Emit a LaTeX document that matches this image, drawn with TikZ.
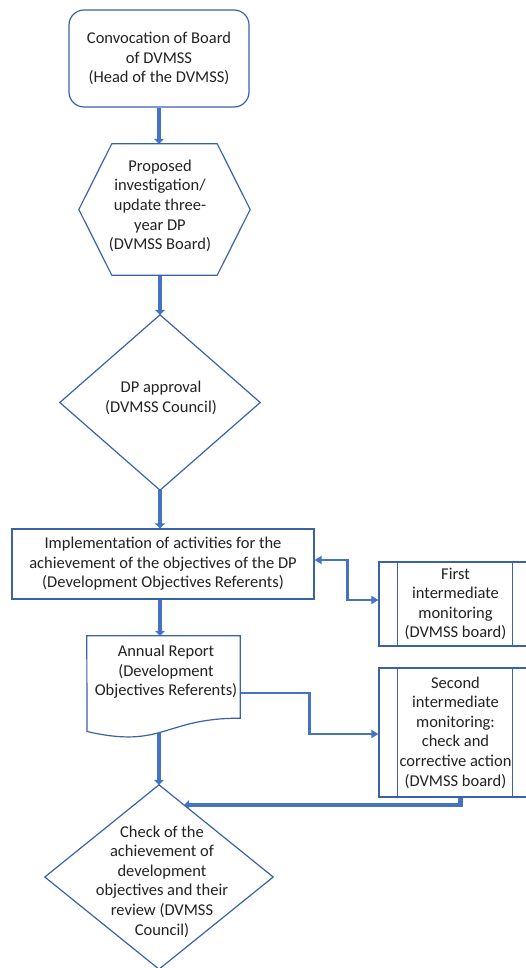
\documentclass[tikz,border=0pt]{standalone}
\usepackage{fontspec}
\setmainfont{Carlito}
\usetikzlibrary{arrows.meta,calc}
\definecolor{arr}{HTML}{4472C4}
\definecolor{edge}{HTML}{3A62A8}
\definecolor{txt}{HTML}{222222}
\pgfdeclarelayer{bg}
\pgfsetlayers{bg,main}
\begin{document}
\begin{tikzpicture}[x=1pt,y=-1pt,
  txtfont/.style={font=\fontsize{16.5}{19.6}\selectfont, text=txt, align=center},
  box/.style={draw=edge, line width=1.2pt, fill=white, inner sep=0pt, txtfont},
  ghost/.style={inner sep=0pt, txtfont},
  outline/.style={draw=edge, line width=1.2pt, fill=white},
  mainarrow/.style={draw=arr, line width=4.5pt, -{Triangle[length=5pt,width=10pt]}},
  thinarrow/.style={draw=arr, line width=2.8pt}
]
\useasboundingbox (0,0) rectangle (525,968);

% 1 rounded rectangle
\node[box, rounded corners=15pt, minimum width=180pt, minimum height=97pt] (n1) at (159,58.5)
  {Convocation of Board\\of DVMSS\\(Head of the DVMSS)};

% 2 hexagon
\node[ghost, minimum width=171pt, minimum height=131pt] (n2) at (164.5,209.5) {};
\draw[outline] ($(n2.north west)+(33,0)$) -- ($(n2.north east)+(-33,0)$) -- (n2.east)
  -- ($(n2.south east)+(-33,0)$) -- ($(n2.south west)+(33,0)$) -- (n2.west) -- cycle;
\node[ghost] (n2t) at (160,206) {Proposed\\investigation/\\update three-\\year DP\\(DVMSS Board)};

% 3 diamond
\node[ghost, minimum width=200pt, minimum height=175pt] (n3) at (160,402.5) {};
\draw[outline] (n3.north) -- (n3.east) -- (n3.south) -- (n3.west) -- cycle;
\node[ghost] (n3t) at (161,398) {DP approval\\(DVMSS Council)};

% 4 rectangle
\node[box, minimum width=302pt, minimum height=70pt] (n4) at (163,564)
  {Implementation of activities for the\\achievement of the objectives of the DP\\(Development Objectives Referents)};

% 5 document
\node[ghost, minimum width=153pt, minimum height=82pt] (n5) at (163.5,677) {};
\draw[outline] (n5.north west) -- (n5.north east) -- (n5.south east)
  .. controls (163.5,718) and (163.5,749.2) .. (87,731.5) -- cycle;
\node[ghost] (n5t) at (166,672) {Annual Report\\(Development\\Objectives Referents)};

% 6 diamond
\node[ghost, minimum width=228pt, minimum height=184pt] (n6) at (159,877) {};
\draw[outline] (n6.north) -- (n6.east) -- (n6.south) -- (n6.west) -- cycle;
\node[ghost] (n6t) at (162,881.5) {Check of the\\achievement of\\development\\objectives and their\\review (DVMSS\\Council)};

% 7 predefined process
\node[box, minimum width=153pt, minimum height=84pt] (n7) at (455.5,604)
  {First\\intermediate\\monitoring\\(DVMSS board)};
\draw[draw=edge, line width=1.2pt] ($(n7.north west)+(19,0)$) -- ($(n7.south west)+(19,0)$)
  ($(n7.north east)+(-20,0)$) -- ($(n7.south east)+(-20,0)$);

% 8 predefined process
\node[box, minimum width=153pt, minimum height=129pt] (n8) at (455.5,732.5)
  {Second\\intermediate\\monitoring:\\check and\\corrective action\\(DVMSS board)};
\draw[draw=edge, line width=1.2pt] ($(n8.north west)+(19,0)$) -- ($(n8.south west)+(19,0)$)
  ($(n8.north east)+(-20,0)$) -- ($(n8.south east)+(-20,0)$);

\begin{pgfonlayer}{bg}
\draw[mainarrow] (n1.south) -- (n1.south |- n2.north);
\draw[mainarrow] (n3.north |- n2.south) -- (n3.north);
\draw[mainarrow] (n3.south) -- (n3.south |- n4.north);
\draw[mainarrow] (n3.south |- n4.south) -- (n3.south |- n5.north);
\draw[mainarrow] (n6.north |- n5.center) -- (n6.north);
\draw[mainarrow] ($(n8.south)+(5,0)$) |- ($(n6.north)!0.22!(n6.east)$);
\draw[thinarrow, {Triangle[length=7pt,width=8pt]}-{Triangle[length=7pt,width=8pt]}]
  ($(n4.east)+(0,-4)$) -- ++(33,0) |- ($(n7.west)+(0,-4)$);
\draw[thinarrow, -{Triangle[length=7pt,width=8pt]}]
  ($(n5.east)+(0,16)$) -- ++(69,0) |- ($(n8.west)+(0,1.5)$);
\end{pgfonlayer}
\end{tikzpicture}
\end{document}
